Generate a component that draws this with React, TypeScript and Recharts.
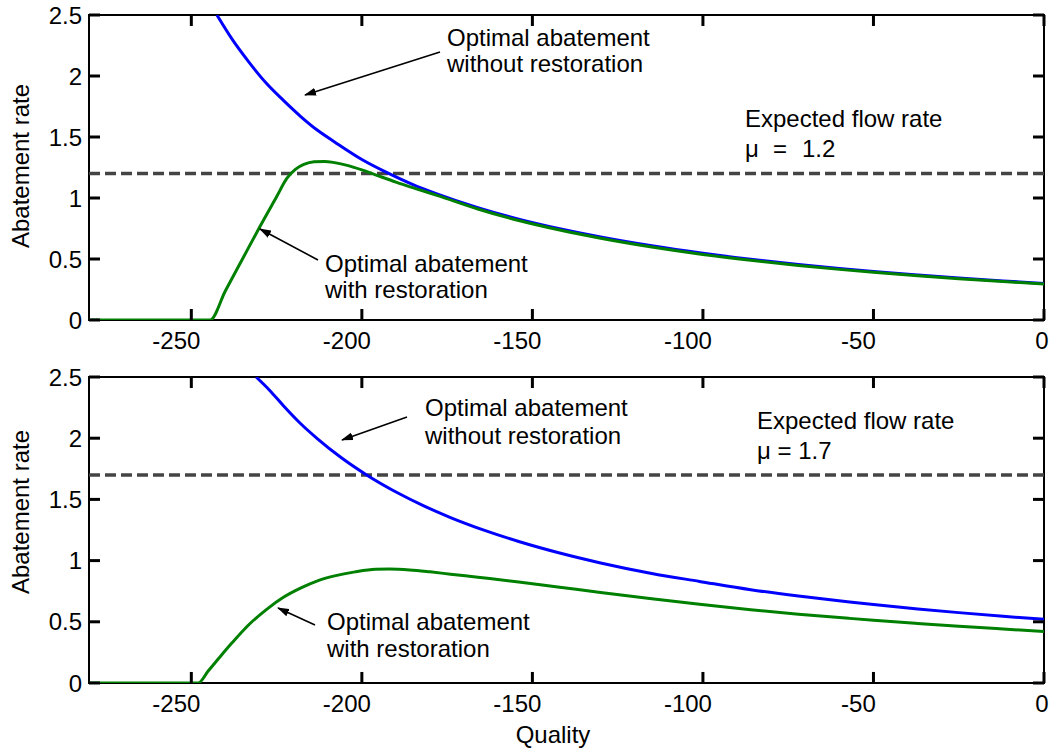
import React from 'react';
import { LineChart, Line, XAxis, YAxis, ReferenceLine, ReferenceArea } from 'recharts';

// ---------- data ----------
const xTicks = [-250, -200, -150, -100, -50, 0];
const yTicks = [0, 0.5, 1, 1.5, 2, 2.5];
const xDomain = [-280, 0];
const yDomain = [0, 2.5];

const topBlueQ = [-242.5, -238, -233, -228, -223, -218, -213, -208, -200, -192, -185, -178, -166, -154, -142, -130, -115, -100, -86, -72, -60, -50, -37, -25, -12, 0];
const topBlueV = [2.5, 2.3, 2.11, 1.94, 1.8, 1.67, 1.555, 1.46, 1.316, 1.2, 1.11, 1.034, 0.921, 0.827, 0.748, 0.68, 0.608, 0.547, 0.498, 0.456, 0.423, 0.398, 0.369, 0.344, 0.32, 0.3];

const topGreenQ = [-280, -244.5, -240, -235, -230, -225, -222, -219.5, -217, -214, -211, -208, -204, -200, -196, -190, -184, -178, -166, -154, -142, -130, -115, -100, -86, -72, -60, -50, -37, -25, -12, 0];
const topGreenV = [0, 0, 0.24, 0.5, 0.76, 1.01, 1.16, 1.235, 1.275, 1.297, 1.3, 1.29, 1.265, 1.23, 1.19, 1.13, 1.075, 1.022, 0.91, 0.815, 0.737, 0.67, 0.598, 0.537, 0.489, 0.447, 0.415, 0.391, 0.362, 0.338, 0.315, 0.295];

const botBlueQ = [-231, -227, -223, -218, -213, -206, -198.6, -189, -182, -174, -164, -154, -142, -130, -115, -101, -86, -72, -57, -50, -37, -25, -12, 0];
const botBlueV = [2.5, 2.39, 2.265, 2.12, 1.995, 1.84, 1.7, 1.546, 1.449, 1.352, 1.247, 1.156, 1.062, 0.981, 0.895, 0.83, 0.762, 0.71, 0.662, 0.641, 0.605, 0.575, 0.545, 0.52];

const botGreenQ = [-280, -248, -245, -242, -238, -233, -228, -223, -218, -213, -208, -202, -196, -192, -186, -180, -174, -166, -154, -142, -130, -115, -101, -86, -72, -57, -50, -37, -25, -12, 0];
const botGreenV = [0, 0, 0.1, 0.2, 0.33, 0.48, 0.6, 0.7, 0.775, 0.835, 0.875, 0.908, 0.929, 0.931, 0.924, 0.908, 0.889, 0.864, 0.826, 0.783, 0.74, 0.688, 0.643, 0.599, 0.562, 0.528, 0.513, 0.487, 0.464, 0.441, 0.42];

const topMu = 1.2;
const botMu = 1.7;

const zip = (q: number[], v: number[]) => q.map((x, i) => ({ q: x, v: v[i] }));
const topBlue = zip(topBlueQ, topBlueV);
const topGreen = zip(topGreenQ, topGreenV);
const botBlue = zip(botBlueQ, botBlueV);
const botGreen = zip(botGreenQ, botGreenV);

// ---------- styles ----------
const FONT = "'Liberation Sans', Arial, Helvetica, sans-serif";
const FS = 24;
const BLUE = '#0000FF';
const GREEN = '#008000';
const DASH = '#444444';
const TICK_PX = 11;
const TICK_DX = (TICK_PX * (xDomain[1] - xDomain[0])) / 955;
const TICK_DY = (TICK_PX * (yDomain[1] - yDomain[0])) / 305;

function XTick(props: any) {
  const { x, y, payload } = props;
  const shift = payload.value < 0 ? -15 : -2;
  return (
    <text x={x + shift} y={y} dy="0.71em" textAnchor="middle" fontSize={FS} fontFamily={FONT} fill="#000">
      {payload.value}
    </text>
  );
}

function YTick(props: any) {
  const { x, y, payload } = props;
  return (
    <text x={x} y={y} dy="0.355em" textAnchor="end" fontSize={FS} fontFamily={FONT} fill="#000">
      {payload.value}
    </text>
  );
}

function Panel(props: { blue: any[]; green: any[]; mu: number; height: number; margin: any }) {
  const { blue, green, mu, height, margin } = props;
  return (
    <LineChart width={1052} height={height} margin={margin}>
      <XAxis
        dataKey="q"
        type="number"
        domain={xDomain}
        ticks={xTicks}
        allowDataOverflow
        orientation="bottom"
        height={40}
        axisLine={false}
        tickLine={false}
        tickSize={6}
        tickMargin={6}
        tick={XTick}
        interval={0}
      />
      <YAxis
        type="number"
        domain={yDomain}
        ticks={yTicks}
        allowDataOverflow
        orientation="left"
        width={89}
        axisLine={false}
        tickLine={false}
        tickSize={6}
        tickMargin={1}
        tick={YTick}
        interval={0}
      />
      <ReferenceLine y={mu} stroke={DASH} strokeWidth={3.5} strokeDasharray="11 5" />
      <Line data={blue} dataKey="v" type="monotone" stroke={BLUE} strokeWidth={3} dot={false} activeDot={false} isAnimationActive={false} />
      <Line data={green} dataKey="v" type="monotone" stroke={GREEN} strokeWidth={3} dot={false} activeDot={false} isAnimationActive={false} />
      {xTicks.map((t) => (
        <ReferenceLine key={'xb' + t} segment={[{ x: t, y: yDomain[0] }, { x: t, y: yDomain[0] + TICK_DY }]} stroke="#000000" strokeWidth={3} />
      ))}
      {xTicks.map((t) => (
        <ReferenceLine key={'xt' + t} segment={[{ x: t, y: yDomain[1] }, { x: t, y: yDomain[1] - TICK_DY }]} stroke="#000000" strokeWidth={3} />
      ))}
      {yTicks.map((t) => (
        <ReferenceLine key={'yl' + t} segment={[{ x: xDomain[0], y: t }, { x: xDomain[0] + TICK_DX, y: t }]} stroke="#000000" strokeWidth={3} />
      ))}
      {yTicks.map((t) => (
        <ReferenceLine key={'yr' + t} segment={[{ x: xDomain[1], y: t }, { x: xDomain[1] - TICK_DX, y: t }]} stroke="#000000" strokeWidth={3} />
      ))}
      <ReferenceArea x1={xDomain[0]} x2={xDomain[1]} y1={yDomain[0]} y2={yDomain[1]} fill="none" fillOpacity={0} stroke="#000" strokeWidth={2} strokeOpacity={1} ifOverflow="visible" />
    </LineChart>
  );
}

function Arrow(props: { x1: number; y1: number; x2: number; y2: number }) {
  return <line x1={props.x1} y1={props.y1} x2={props.x2} y2={props.y2} stroke="#000" strokeWidth={1.6} markerEnd="url(#ah)" />;
}

function T(props: { x: number; y: number; children: any; anchor?: string }) {
  return (
    <text x={props.x} y={props.y} fontSize={FS} fontFamily={FONT} fill="#000" textAnchor={props.anchor || 'start'}>
      {props.children}
    </text>
  );
}

export default function App() {
  return (
    <div style={{ position: 'absolute', left: 0, top: 0, width: 1052, height: 751, background: '#fff' }}>
      <div style={{ position: 'absolute', left: 0, top: 0 }}>
        <Panel blue={topBlue} green={topGreen} mu={topMu} height={360} margin={{ top: 15, right: 8, bottom: 0, left: 0 }} />
      </div>
      <div style={{ position: 'absolute', left: 0, top: 360 }}>
        <Panel blue={botBlue} green={botGreen} mu={botMu} height={391} margin={{ top: 17, right: 8, bottom: 28, left: 0 }} />
      </div>
      <svg width={1052} height={751} style={{ position: 'absolute', left: 0, top: 0, pointerEvents: 'none' }}>
        <defs>
          <marker id="ah" viewBox="0 0 12 8" refX="11" refY="4" markerWidth="12" markerHeight="8" markerUnits="userSpaceOnUse" orient="auto">
            <path d="M0,0 L12,4 L0,8 Z" fill="#000" />
          </marker>
        </defs>
        <T x={447} y={46}>Optimal abatement</T>
        <T x={447} y={72}>without restoration</T>
        <Arrow x1={440} y1={52} x2={305} y2={95} />
        <T x={745} y={127}>Expected flow rate</T>
        <T x={745} y={157}>μ</T>
        <T x={773} y={157}>=</T>
        <T x={802} y={157}>1.2</T>
        <T x={325} y={272}>Optimal abatement</T>
        <T x={325} y={298}>with restoration</T>
        <Arrow x1={318} y1={260} x2={260} y2={229} />
        <T x={425} y={416}>Optimal abatement</T>
        <T x={425} y={444}>without restoration</T>
        <Arrow x1={407} y1={417} x2={342} y2={440} />
        <T x={757} y={429}>Expected flow rate</T>
        <T x={757} y={459}>μ = 1.7</T>
        <T x={327} y={630}>Optimal abatement</T>
        <T x={327} y={657}>with restoration</T>
        <Arrow x1={315} y1={625} x2={278} y2={608} />
        <text x={29} y={166} transform="rotate(-90 29 166)" fontSize={FS} fontFamily={FONT} fill="#000" textAnchor="middle">Abatement rate</text>
        <text x={29} y={512} transform="rotate(-90 29 512)" fontSize={FS} fontFamily={FONT} fill="#000" textAnchor="middle">Abatement rate</text>
        <T x={553} y={743} anchor="middle">Quality</T>
      </svg>
    </div>
  );
}
